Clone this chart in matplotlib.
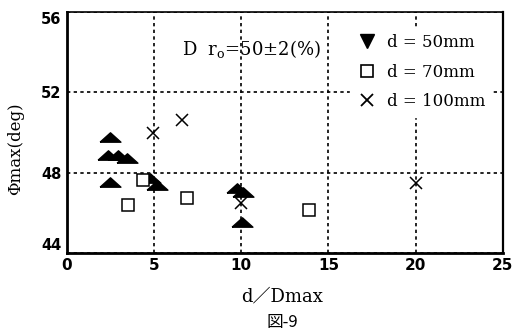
import numpy as np
import matplotlib
matplotlib.use('Agg')
import matplotlib.pyplot as plt
from matplotlib.lines import Line2D

# d = 50mm (filled triangles)
x50 = [2.47, 2.35, 2.95, 3.44, 2.47, 4.76, 5.16, 9.75, 10.09, 10.03]
y50 = [49.78, 48.88, 48.85, 48.73, 47.54, 47.74, 47.39, 47.24, 47.04, 45.54]
# d = 70mm (open squares)
x70 = [3.49, 4.34, 6.90, 13.90]
y70 = [46.39, 47.64, 46.74, 46.14]
# d = 100mm (crosses)
x100 = [4.93, 6.60, 10.00, 20.00]
y100 = [49.98, 50.62, 46.49, 47.49]

xticks = [0, 5, 10, 15, 20, 25]
yticks = [44, 48, 52, 56]

serif = ['DejaVu Serif', 'Noto Sans CJK JP']

fig = plt.figure(figsize=(5.31, 3.31), dpi=100)
ax = fig.add_axes([0.126, 0.236, 0.821, 0.728])

tri = [(-1, -0.45), (0, 0.45), (1, -0.45), (-1, -0.45)]
ax.plot(x50, y50, linestyle='none', marker=tri, ms=15, color='black', zorder=3)
ax.plot(x70, y70, linestyle='none', marker='s', ms=8, mfc='white', mec='black', mew=1.1, zorder=3)
ax.plot(x100, y100, linestyle='none', marker='x', ms=9, color='black', mew=1.1, zorder=3)

ax.set_xlim(0, 25)
ax.set_ylim(44, 56)
ax.set_xticks(xticks)
ax.set_yticks(yticks)
ax.set_xticklabels([str(t) for t in xticks], fontsize=11, fontweight='bold', family='DejaVu Sans')
ax.set_yticklabels([str(t) for t in yticks], fontsize=10.5, fontweight='bold', family='DejaVu Sans')
ylabs = ax.get_yticklabels()
ylabs[0].set_va('bottom')
ylabs[-1].set_va('top')
ax.tick_params(length=0, pad=4)
ax.grid(True, color='black', linestyle=(0, (2, 2)), linewidth=1.2)

ax.spines['left'].set_linewidth(2.0)
ax.spines['bottom'].set_linewidth(2.0)
ax.spines['top'].set_linewidth(1.2)
ax.spines['right'].set_linewidth(1.6)

ax.text(0.265, 0.845, r'D  r$_\mathregular{o}$=50±2(%)', transform=ax.transAxes,
        fontsize=13, family=serif, va='center', ha='left')

handles = [
    Line2D([], [], linestyle='none', marker='v', ms=10, color='black'),
    Line2D([], [], linestyle='none', marker='s', ms=9, mfc='white', mec='black', mew=1.2),
    Line2D([], [], linestyle='none', marker='x', ms=8, color='black', mew=1.3),
]
labels = ['d = 50mm', 'd = 70mm', 'd = 100mm']
leg = ax.legend(handles, labels, loc='upper left', bbox_to_anchor=(0.63, 0.97),
                frameon=True, fancybox=False, framealpha=1, edgecolor='white',
                facecolor='white', prop={'family': serif, 'size': 12},
                handletextpad=0.6, labelspacing=0.75, borderpad=0.4, handlelength=1.2)
leg.set_zorder(5)

fig.text(0.531, 0.103, 'd／Dmax', ha='center', va='center', fontsize=13, family=serif)
fig.text(0.531, 0.027, '図-9', ha='center', va='center', fontsize=12,
         family=['Noto Sans CJK JP', 'DejaVu Sans'])
fig.text(0.03, 0.55, 'Φmax(deg)', ha='center', va='center', rotation=90, fontsize=12, family=serif)

fig.savefig('out.png', dpi=100)
